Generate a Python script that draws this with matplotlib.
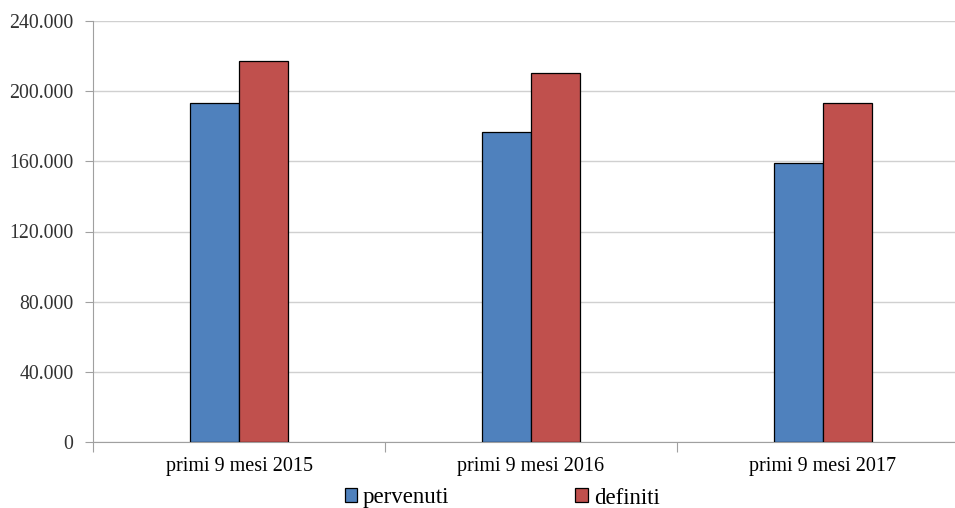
import numpy as np
import matplotlib.pyplot as plt
from matplotlib.ticker import FuncFormatter

# data
categories = ['primi 9 mesi 2015', 'primi 9 mesi 2016', 'primi 9 mesi 2017']
pervenuti = [193000, 176600, 158900]
definiti = [217400, 210200, 193300]

plt.rcParams['font.family'] = ['Liberation Serif', 'DejaVu Serif']

fig = plt.figure(figsize=(9.55, 5.08), dpi=100)
# plot area: x from 93px, category width ~292px (runs off the right edge)
ax = fig.add_axes([93 / 955, (508 - 442) / 508, 876 / 955, 421 / 508])

x = np.arange(len(categories))
w = 0.168
ax.bar(x - w / 2, pervenuti, w, color='#4F81BD', edgecolor='black', linewidth=0.9,
       label='pervenuti', zorder=3)
ax.bar(x + w / 2, definiti, w, color='#C0504D', edgecolor='black', linewidth=0.9,
       label='definiti', zorder=3)

ax.set_xlim(-0.5, 2.5)
ax.set_ylim(0, 240000)
ax.set_yticks(np.arange(0, 240001, 40000))
ax.yaxis.set_major_formatter(FuncFormatter(lambda v, p: f'{int(v):,}'.replace(',', '.')))
ax.grid(axis='y', color='#d0d0d0', linewidth=1, zorder=0)

# category boundaries get the tick marks, labels sit in the middle
ax.set_xticks([-0.5, 0.5, 1.5])
ax.set_xticklabels([])
ax.set_xticks(x, minor=True)
ax.set_xticklabels(categories, minor=True)
ax.tick_params(axis='x', which='major', length=7, color='#a0a0a0', direction='out')
ax.tick_params(axis='x', which='minor', length=0, pad=11, labelsize=14.5)
ax.tick_params(axis='y', length=6, color='#a0a0a0', pad=8, labelsize=14.3, labelcolor='#333333')

for s in ['top', 'right']:
    ax.spines[s].set_visible(False)
ax.spines['left'].set_color('#a0a0a0')
ax.spines['bottom'].set_color('#a0a0a0')

fig.legend(loc='center', bbox_to_anchor=(502 / 955, 1 - 498 / 508), ncol=2, frameon=False,
           prop={'family': ['Liberation Serif', 'DejaVu Serif'], 'size': 16.5},
           handlelength=0.55, handleheight=0.55, handletextpad=0.25,
           columnspacing=5.5, borderaxespad=0)

fig.savefig('out.png', dpi=100)
